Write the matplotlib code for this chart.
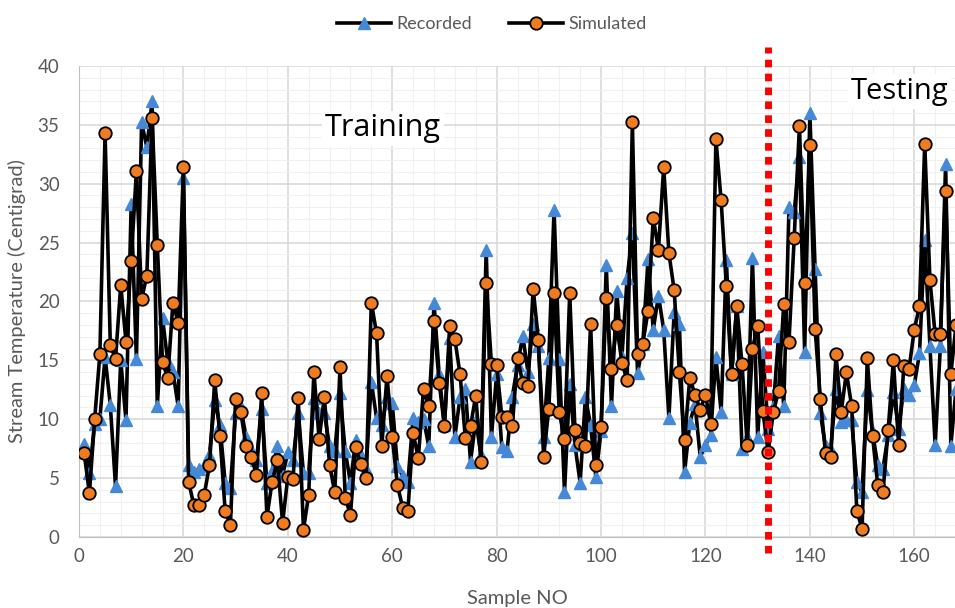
import matplotlib
matplotlib.use("Agg")
import matplotlib.pyplot as plt
from matplotlib.ticker import MultipleLocator
import numpy as np

plt.rcParams['font.family'] = ['Lato', 'DejaVu Sans']

# recorded stream temperature, samples 1..168
recorded = [7.9, 5.4, 9.6, 10.0, 15.3, 11.2, 4.3, 15.0, 9.9, 28.3,
            15.1, 35.2, 33.1, 37.0, 11.1, 18.6, 14.9, 14.0, 11.1, 30.5,
            6.1, 5.5, 5.8, 6.0, 7.0, 11.6, 9.5, 4.6, 4.2, 10.5,
            11.0, 8.5, 7.4, 6.5, 10.9, 4.6, 5.6, 7.7, 5.2, 7.2,
            6.5, 10.5, 5.4, 5.4, 11.8, 10.5, 10.5, 7.7, 7.3, 12.2,
            7.3, 4.6, 8.2, 7.0, 5.8, 13.2, 10.1, 9.5, 11.9, 11.4,
            6.0, 5.2, 4.7, 10.1, 9.8, 10.0, 7.7, 19.9, 13.8, 9.5,
            16.9, 8.5, 11.9, 12.6, 6.4, 9.9, 7.0, 24.4, 8.5, 13.8,
            7.6, 7.3, 11.9, 14.6, 17.1, 14.0, 18.1, 16.2, 8.5, 15.2,
            27.8, 15.1, 3.8, 13.0, 7.8, 4.6, 11.9, 9.5, 5.1, 9.0,
            23.1, 11.1, 20.9, 15.3, 22.0, 25.8, 13.9, 16.4, 23.6, 17.6,
            20.5, 17.6, 10.1, 19.1, 18.1, 5.5, 9.7, 11.3, 6.8, 7.8,
            8.7, 15.3, 10.6, 23.5, 13.8, 19.6, 7.5, 8.5, 23.7, 8.5,
            15.7, 9.2, 11.0, 17.1, 11.1, 28.0, 27.6, 32.3, 15.7, 36.0,
            22.8, 10.5, 7.7, 7.4, 12.6, 9.8, 9.9, 9.9, 4.7, 3.8,
            12.5, 8.9, 6.1, 5.8, 8.7, 12.3, 9.2, 12.6, 12.1, 12.9,
            15.6, 25.2, 16.2, 7.8, 16.2, 31.7, 7.7, 12.6]

# simulated stream temperature, samples 1..168
simulated = [7.1, 3.7, 10.0, 15.5, 34.3, 16.3, 15.1, 21.4, 16.6, 23.4,
             31.1, 20.2, 22.2, 35.6, 24.8, 14.9, 13.5, 19.9, 18.2, 31.4,
             4.7, 2.7, 2.7, 3.6, 6.1, 13.3, 8.6, 2.2, 1.0, 11.7,
             10.6, 7.7, 6.8, 5.3, 12.2, 1.7, 4.7, 6.5, 1.2, 5.1,
             4.9, 11.8, 0.6, 3.6, 14.0, 8.3, 11.9, 6.1, 3.8, 14.4,
             3.3, 1.9, 7.6, 6.2, 5.0, 19.9, 17.3, 7.7, 13.7, 8.5,
             4.4, 2.5, 2.2, 8.8, 6.7, 12.6, 11.1, 18.3, 13.1, 9.4,
             17.9, 16.8, 13.8, 8.4, 9.4, 12.0, 6.4, 21.6, 14.7, 14.6,
             10.2, 10.2, 9.4, 15.2, 13.1, 12.8, 21.1, 16.7, 6.8, 10.9,
             20.7, 10.6, 8.3, 20.7, 9.1, 8.0, 7.7, 18.1, 6.1, 9.3,
             20.3, 14.3, 18.0, 14.8, 13.3, 35.2, 15.5, 16.4, 19.2, 27.1,
             24.4, 31.4, 24.1, 21.0, 14.0, 8.2, 13.5, 12.1, 10.8, 12.1,
             9.6, 33.8, 28.6, 21.3, 13.8, 19.6, 14.7, 7.8, 16.0, 17.9,
             10.7, 7.2, 10.6, 12.4, 19.8, 16.6, 25.4, 34.9, 21.6, 33.3,
             17.7, 11.7, 7.1, 6.8, 15.5, 10.6, 14.0, 11.1, 2.2, 0.7,
             15.2, 8.6, 4.4, 3.8, 9.1, 15.0, 7.8, 14.5, 14.3, 17.6,
             19.6, 33.4, 21.8, 17.2, 17.2, 29.4, 13.8, 18.0]

samples = np.arange(1, len(simulated) + 1)
split_at = 132  # training / testing boundary

fig = plt.figure(figsize=(9.55, 6.08), dpi=100)
ax = fig.add_axes([0.0827, 0.1168, 0.9173, 0.7747])

ax.plot(samples, recorded, color='black', lw=2.6, marker='^', ms=9,
        mfc='#4589d6', mec='#4589d6', label='Recorded', zorder=3)
ax.plot(samples, simulated, color='black', lw=2.6, marker='o', ms=9,
        mfc='#f07c22', mec='black', mew=1.3, label='Simulated', zorder=4)

ax.axvline(split_at, ymin=-0.035, ymax=1.04, color='#ff0000', lw=5,
           ls=(0, (1.1, 0.9)), clip_on=False, zorder=5)

ax.text(58.2, 34.7, 'Training', fontsize=22, ha='center', va='center',
        family=['Open Sans', 'DejaVu Sans'],
        bbox=dict(facecolor='white', edgecolor='none', pad=2), zorder=2)
ax.text(157.2, 37.8, 'Testing', fontsize=21, ha='center', va='center',
        family=['Open Sans', 'DejaVu Sans'],
        bbox=dict(facecolor='white', edgecolor='none', pad=2), zorder=2)

ax.set_xlim(0, 167.8)
ax.set_ylim(0, 40)
ax.xaxis.set_major_locator(MultipleLocator(20))
ax.xaxis.set_minor_locator(MultipleLocator(4))
ax.yaxis.set_major_locator(MultipleLocator(5))
ax.yaxis.set_minor_locator(MultipleLocator(1))
ax.grid(which='major', color='#d9d9d9', lw=1.2)
ax.grid(which='minor', color='#f0f0f0', lw=0.8)
ax.set_axisbelow(True)

for s in ['top', 'right']:
    ax.spines[s].set_visible(False)
for s in ['left', 'bottom']:
    ax.spines[s].set_color('#bfbfbf')
ax.tick_params(which='both', length=0, colors='#595959', labelsize=13.5)
ax.tick_params(axis='y', pad=14)
ax.tick_params(axis='x', pad=8)

ax.set_xlabel('Sample NO', fontsize=14.5, color='#595959', labelpad=18)
ax.set_ylabel('Stream Temperature (Centigrad)', fontsize=14.5, color='#595959', labelpad=8)

fig.legend(loc='upper center', bbox_to_anchor=(0.515, 1.0), ncol=2, frameon=False,
           fontsize=13, labelcolor='#595959', handlelength=3.0, columnspacing=2.0,
           handletextpad=0.3)

fig.savefig('out.png', dpi=100)
